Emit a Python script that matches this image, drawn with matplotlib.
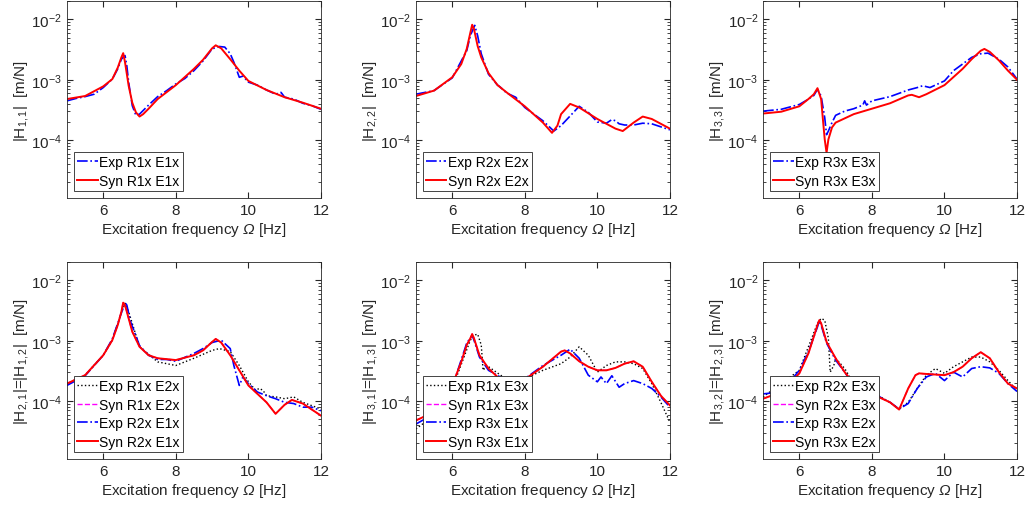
import matplotlib
matplotlib.use("Agg")
import matplotlib.pyplot as plt
import numpy as np

plt.rcParams["font.family"] = "Liberation Sans"
plt.rcParams["mathtext.fontset"] = "custom"
plt.rcParams["mathtext.rm"] = "Liberation Sans"
plt.rcParams["mathtext.it"] = "Liberation Sans:italic"
plt.rcParams["mathtext.sf"] = "Liberation Sans:italic"  # used for the italic Omega
plt.rcParams["font.size"] = 11

# all magnitudes stored as log10(|H|), |H| in m/N

# H11
f11_exp = [5.0, 5.25, 5.5, 5.75, 6.0, 6.25, 6.4, 6.5, 6.6, 6.65, 6.7, 6.8, 6.9, 7.0, 7.1, 7.25, 7.5, 7.75,
           8.0, 8.25, 8.5, 8.75, 9.0, 9.2, 9.35, 9.5, 9.6, 9.75, 9.85, 10.0, 10.25, 10.5, 10.75, 10.9,
           11.0, 11.25, 11.5, 11.75, 12.0]
h11_exp = [-3.35, -3.31, -3.28, -3.24, -3.13, -2.99, -2.82, -2.66, -2.60, -2.77, -3.04, -3.43, -3.59,
           -3.57, -3.51, -3.42, -3.28, -3.18, -3.07, -2.98, -2.85, -2.69, -2.49, -2.45, -2.46, -2.57,
           -2.71, -2.96, -2.94, -3.04, -3.09, -3.17, -3.24, -3.21, -3.29, -3.32, -3.39, -3.43, -3.49]
f11_syn = [5.0, 5.5, 6.0, 6.25, 6.4, 6.5, 6.55, 6.6, 6.7, 6.8, 6.9, 7.0, 7.1, 7.25, 7.5, 8.0, 8.5, 8.75,
           9.0, 9.1, 9.25, 9.5, 9.75, 10.0, 10.5, 11.0, 11.5, 12.0]
h11_syn = [-3.32, -3.27, -3.11, -2.99, -2.80, -2.63, -2.56, -2.71, -3.10, -3.38, -3.54, -3.61, -3.57,
           -3.48, -3.32, -3.09, -2.82, -2.67, -2.48, -2.43, -2.48, -2.66, -2.85, -3.02, -3.17, -3.29,
           -3.38, -3.48]

# H22
f22_exp = [5.0, 5.5, 6.0, 6.4, 6.5, 6.62, 6.7, 6.8, 7.0, 7.25, 7.3, 7.5, 7.75, 8.0, 8.25, 8.5, 8.8, 9.0,
           9.25, 9.5, 9.75, 10.0, 10.25, 10.4, 10.5, 10.6, 10.75, 11.0, 11.25, 11.5, 12.0]
h22_exp = [-3.24, -3.18, -2.97, -2.52, -2.27, -2.10, -2.27, -2.57, -2.91, -3.09, -3.11, -3.22, -3.29,
           -3.46, -3.57, -3.68, -3.85, -3.76, -3.60, -3.44, -3.54, -3.70, -3.72, -3.66, -3.68, -3.73,
           -3.75, -3.75, -3.72, -3.73, -3.83]
f22_syn = [5.0, 5.5, 6.0, 6.25, 6.4, 6.5, 6.55, 6.6, 6.7, 6.8, 7.0, 7.25, 7.5, 8.0, 8.5, 8.75, 8.9, 9.0,
           9.25, 9.5, 10.0, 10.5, 10.7, 11.0, 11.25, 11.5, 12.0]
h22_syn = [-3.27, -3.18, -2.96, -2.74, -2.49, -2.22, -2.09, -2.16, -2.44, -2.63, -2.89, -3.09, -3.21,
           -3.44, -3.71, -3.88, -3.76, -3.57, -3.40, -3.46, -3.65, -3.81, -3.85, -3.71, -3.61, -3.65,
           -3.81]

# H33
f33_exp = [5.0, 5.5, 6.0, 6.2, 6.4, 6.5, 6.6, 6.7, 6.75, 6.8, 6.9, 7.0, 7.25, 7.5, 7.75, 7.8, 7.85, 8.0,
           8.5, 9.0, 9.25, 9.4, 9.6, 10.0, 10.25, 10.5, 10.75, 11.0, 11.2, 11.5, 11.75, 12.0]
h33_exp = [-3.52, -3.49, -3.41, -3.34, -3.26, -3.16, -3.27, -3.63, -3.91, -3.85, -3.71, -3.59, -3.52,
           -3.48, -3.42, -3.35, -3.42, -3.35, -3.28, -3.17, -3.13, -3.10, -3.13, -3.02, -2.85, -2.74,
           -2.63, -2.57, -2.56, -2.66, -2.79, -2.99]
f33_syn = [5.0, 5.5, 6.0, 6.25, 6.4, 6.5, 6.6, 6.65, 6.7, 6.75, 6.8, 6.9, 7.0, 7.25, 7.5, 8.0, 8.5, 9.0,
           9.1, 9.3, 9.5, 10.0, 10.5, 10.75, 11.0, 11.1, 11.25, 11.5, 11.75, 12.0]
h33_syn = [-3.56, -3.53, -3.44, -3.32, -3.24, -3.14, -3.32, -3.66, -3.99, -4.21, -3.99, -3.79, -3.71,
           -3.64, -3.57, -3.48, -3.39, -3.26, -3.25, -3.29, -3.24, -3.09, -2.82, -2.66, -2.52, -2.49,
           -2.54, -2.68, -2.85, -3.00]

# H21 / H12
f12_exp = [5.0, 5.5, 6.0, 6.25, 6.5, 6.6, 6.7, 7.0, 7.5, 8.0, 8.5, 9.0, 9.2, 9.5, 9.75, 10.0, 10.2, 10.3,
           10.4, 10.5, 10.75, 11.0, 11.25, 11.5, 12.0]
h12_exp = [-3.71, -3.57, -3.24, -2.99, -2.54, -2.38, -2.52, -3.10, -3.35, -3.41, -3.29, -3.16, -3.13,
           -3.18, -3.41, -3.68, -3.82, -3.79, -3.82, -3.91, -3.93, -3.96, -3.93, -4.02, -4.13]
f21_exp = [5.0, 5.5, 6.0, 6.25, 6.5, 6.6, 6.65, 6.75, 7.0, 7.25, 7.5, 7.75, 8.0, 8.5, 8.75, 9.0, 9.25,
           9.5, 9.6, 9.75, 9.85, 10.0, 10.25, 10.5, 10.75, 11.0, 11.25, 11.5, 11.75, 12.0]
h21_exp = [-3.74, -3.58, -3.24, -2.97, -2.54, -2.37, -2.41, -2.68, -3.08, -3.24, -3.31, -3.31, -3.34,
           -3.21, -3.13, -3.03, -2.99, -3.13, -3.41, -3.74, -3.60, -3.71, -3.85, -3.91, -3.96, -4.02,
           -4.04, -4.10, -4.10, -4.16]
f21_syn = [5.0, 5.5, 6.0, 6.25, 6.4, 6.5, 6.55, 6.6, 6.7, 6.8, 7.0, 7.25, 7.5, 8.0, 8.5, 8.75, 9.0, 9.1,
           9.25, 9.5, 9.75, 10.0, 10.25, 10.5, 10.75, 11.0, 11.2, 11.5, 12.0]
h21_syn = [-3.71, -3.57, -3.24, -2.99, -2.74, -2.52, -2.37, -2.41, -2.63, -2.85, -3.10, -3.24, -3.29,
           -3.32, -3.24, -3.16, -3.02, -2.97, -3.03, -3.24, -3.49, -3.74, -3.88, -4.02, -4.21, -4.06,
           -3.98, -4.04, -4.24]

# H31 / H13
f13_exp = [5.0, 5.5, 6.0, 6.5, 6.6, 6.7, 6.8, 6.85, 6.95, 7.0, 7.5, 8.0, 8.5, 9.0, 9.25, 9.5, 9.75,
           10.0, 10.25, 10.5, 10.75, 11.0, 11.25, 11.5, 11.75, 12.0]
h13_exp = [-4.46, -4.24, -3.79, -2.99, -2.91, -2.89, -3.07, -3.49, -3.41, -3.43, -3.64, -3.63, -3.49,
           -3.38, -3.27, -3.10, -3.24, -3.52, -3.41, -3.35, -3.35, -3.38, -3.46, -3.71, -4.02, -4.35]
f31_exp = [5.0, 5.5, 6.0, 6.4, 6.55, 6.6, 6.75, 7.0, 7.5, 8.0, 8.5, 9.0, 9.25, 9.5, 9.75, 10.0, 10.1,
           10.25, 10.4, 10.6, 10.75, 11.0, 11.25, 11.5, 11.75, 12.0]
h31_exp = [-4.38, -4.21, -3.77, -3.04, -2.91, -2.99, -3.27, -3.49, -3.66, -3.63, -3.41, -3.24, -3.14,
           -3.29, -3.57, -3.68, -3.60, -3.71, -3.58, -3.77, -3.71, -3.66, -3.71, -3.79, -3.93, -4.10]
f31_syn = [5.0, 5.5, 6.0, 6.25, 6.4, 6.5, 6.55, 6.6, 6.75, 7.0, 7.25, 7.5, 8.0, 8.5, 9.0, 9.1, 9.25, 9.5,
           9.75, 10.0, 10.25, 10.5, 10.75, 11.0, 11.25, 11.5, 11.75, 12.0]
h31_syn = [-4.32, -4.18, -3.74, -3.35, -3.07, -2.96, -2.89, -2.96, -3.24, -3.46, -3.60, -3.67, -3.64,
           -3.43, -3.18, -3.16, -3.21, -3.34, -3.43, -3.49, -3.49, -3.45, -3.38, -3.34, -3.43, -3.68,
           -3.91, -4.07]

# H32 / H23
f23_exp = [5.0, 6.0, 6.5, 6.6, 6.7, 6.8, 6.85, 6.95, 7.0, 7.25, 7.5, 8.0, 8.5, 8.75, 9.0, 9.25, 9.5,
           9.75, 10.0, 10.25, 10.5, 10.75, 11.0, 11.25, 11.5, 11.75, 12.0]
h23_exp = [-3.93, -3.49, -2.71, -2.63, -2.66, -2.96, -3.52, -3.41, -3.29, -3.46, -3.71, -3.85, -4.02,
           -4.13, -4.02, -3.79, -3.57, -3.46, -3.54, -3.43, -3.35, -3.27, -3.27, -3.35, -3.49, -3.66,
           -3.82]
f32_exp = [5.0, 5.5, 6.0, 6.25, 6.5, 6.55, 6.6, 6.75, 7.0, 7.25, 7.5, 8.0, 8.5, 8.75, 9.0, 9.25, 9.5,
           9.75, 10.0, 10.25, 10.5, 10.75, 11.0, 11.25, 11.5, 11.75, 12.0]
h32_exp = [-3.88, -3.85, -3.49, -3.18, -2.77, -2.67, -2.74, -3.04, -3.32, -3.52, -3.74, -3.86, -4.02,
           -4.13, -4.04, -3.79, -3.60, -3.54, -3.66, -3.52, -3.60, -3.46, -3.43, -3.45, -3.54, -3.71,
           -3.84]
f32_syn = [5.0, 5.5, 6.0, 6.25, 6.4, 6.5, 6.55, 6.6, 6.75, 7.0, 7.25, 7.5, 8.0, 8.5, 8.75, 9.0, 9.2, 9.3,
           9.5, 10.0, 10.25, 10.5, 10.75, 11.0, 11.25, 11.5, 11.75, 12.0]
h32_syn = [-3.96, -3.85, -3.54, -3.21, -2.93, -2.74, -2.66, -2.71, -3.02, -3.29, -3.52, -3.71, -3.88,
           -4.02, -4.14, -3.79, -3.57, -3.54, -3.55, -3.57, -3.52, -3.43, -3.29, -3.19, -3.29, -3.52,
           -3.71, -3.79]

xticks = [6, 8, 10, 12]
ylabels = [r"$|$H$_{1,1}|$  [m/N]", r"$|$H$_{2,2}|$  [m/N]", r"$|$H$_{3,3}|$  [m/N]",
           r"$|$H$_{2,1}|$=$|$H$_{1,2}|$  [m/N]", r"$|$H$_{3,1}|$=$|$H$_{1,3}|$  [m/N]",
           r"$|$H$_{3,2}|$=$|$H$_{2,3}|$  [m/N]"]

gray = "#262626"
fig = plt.figure(figsize=(10.27, 5.10), dpi=100)
lefts = [0.0652, 0.405, 0.743]
bottoms = [0.6098, 0.098]
w, h = 0.2473, 0.386

def style_axes(ax, ylabel):
    ax.set_xlim(5, 12)
    ax.set_ylim(1.1e-5, 2e-2)
    ax.set_xticks(xticks)
    ax.tick_params(which="both", direction="in", top=True, right=True, colors=gray,
                   labelcolor=gray, labelsize=11)
    ax.tick_params(which="major", length=4)
    ax.tick_params(which="minor", length=2)
    for s in ax.spines.values():
        s.set_color(gray)
        s.set_linewidth(0.6)
    ax.set_xlabel(r"Excitation frequency $\mathsf{Ω}$ [Hz]", color=gray, labelpad=2)
    ax.set_ylabel(ylabel, color=gray, labelpad=0)

def add_legend(ax):
    leg = ax.legend(loc="lower left", fancybox=False, framealpha=1, edgecolor=gray,
                    borderaxespad=0.5, handlelength=1.45, handletextpad=0.1,
                    labelspacing=0.32, borderpad=0.25, fontsize=10)
    leg.get_frame().set_linewidth(0.6)

top = [
    (f11_exp, h11_exp, f11_syn, h11_syn, "R1x E1x"),
    (f22_exp, h22_exp, f22_syn, h22_syn, "R2x E2x"),
    (f33_exp, h33_exp, f33_syn, h33_syn, "R3x E3x"),
]
for i, (fe, he, fs, hs, tag) in enumerate(top):
    ax = fig.add_axes([lefts[i], bottoms[0], w, h])
    ax.set_yscale("log")
    ax.plot(fe, np.power(10.0, he), color="#0000FF", ls="-.", lw=1.2, label="Exp " + tag)
    ax.plot(fs, np.power(10.0, hs), color="#FF0000", ls="-", lw=1.4, label="Syn " + tag)
    style_axes(ax, ylabels[i])
    add_legend(ax)

bottom = [
    (f12_exp, h12_exp, f21_exp, h21_exp, f21_syn, h21_syn, "R1x E2x", "R2x E1x"),
    (f13_exp, h13_exp, f31_exp, h31_exp, f31_syn, h31_syn, "R1x E3x", "R3x E1x"),
    (f23_exp, h23_exp, f32_exp, h32_exp, f32_syn, h32_syn, "R2x E3x", "R3x E2x"),
]
for i, (fa, ha, fb, hb, fs, hs, tag1, tag2) in enumerate(bottom):
    ax = fig.add_axes([lefts[i], bottoms[1], w, h])
    ax.set_yscale("log")
    ax.plot(fa, np.power(10.0, ha), color="black", ls=":", lw=1.0, label="Exp " + tag1)
    # reciprocal synthesized FRF coincides with the other one
    ax.plot(fs, np.power(10.0, hs), color="#FF00FF", ls="--", lw=1.0, label="Syn " + tag1)
    ax.plot(fb, np.power(10.0, hb), color="#0000FF", ls="-.", lw=1.2, label="Exp " + tag2)
    ax.plot(fs, np.power(10.0, hs), color="#FF0000", ls="-", lw=1.4, label="Syn " + tag2)
    style_axes(ax, ylabels[3 + i])
    add_legend(ax)

fig.savefig("out.png", dpi=100)
